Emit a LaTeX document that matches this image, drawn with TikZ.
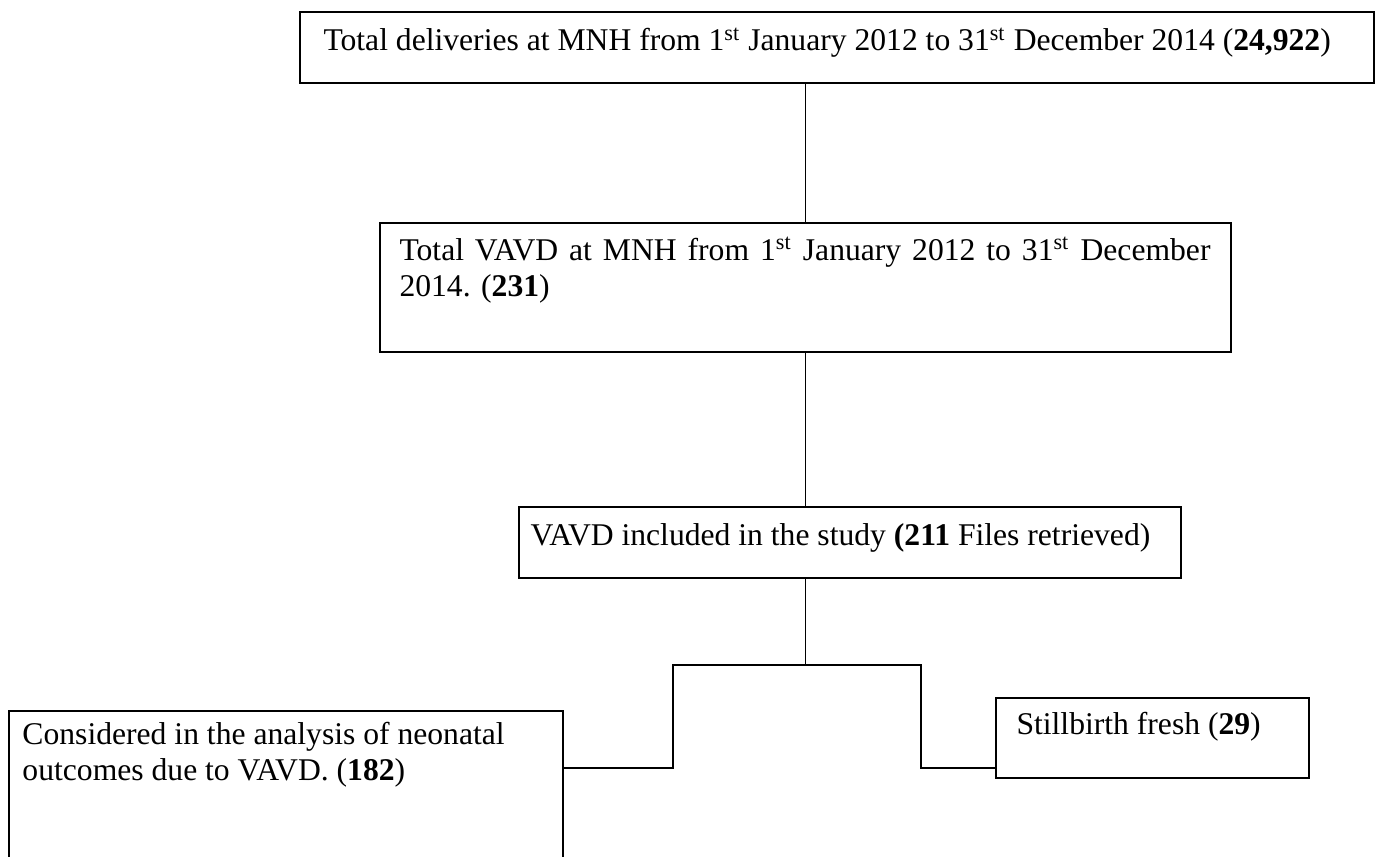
\documentclass[tikz,border=0pt]{standalone}
\usepackage{fontspec}
\setmainfont{Liberation Serif}
\usetikzlibrary{positioning}

\begin{document}
\begin{tikzpicture}[x=0.4pt, y=-0.4pt,
		frame/.style={draw, line width=0.8pt, inner sep=0pt, anchor=north west},
		txt/.style={inner sep=0pt, anchor=base west, align=left,
			font=\fontsize{12.65pt}{14.5pt}\selectfont},
		link/.style={draw, line width=0.6pt}
	]
	\clip (0,0) rectangle (1380,857);
	% boxes
	\node[frame, minimum width=429.6pt, minimum height=28.4pt] (total) at (299,11) {};
	\node[frame, minimum width=340.4pt, minimum height=51.6pt] (vavd) at (379,222) {};
	\node[frame, minimum width=264.8pt, minimum height=28.4pt] (study) at (518,506) {};
	\node[frame, minimum width=221.6pt, minimum height=64pt] (analysed) at (8,710) {};
	\node[frame, minimum width=125.2pt, minimum height=32pt] (still) at (995,697) {};
	% texts (base is the last line)
	\node[txt] (totaltxt) at ([shift={(24,40)}]total.north west)
		{Total deliveries at MNH from 1\textsuperscript{st} January 2012 to 31\textsuperscript{st} December 2014 (\textbf{24,922})};
	\node[txt] (vavdtxt) at ([shift={(20,75)}]vavd.north west)
		{\makebox[324.4pt][s]{Total VAVD at MNH from 1\textsuperscript{st} January 2012 to 31\textsuperscript{st} December}\\ 2014. (\textbf{231})};
	\node[txt] (studytxt) at ([shift={(12,40)}]study.north west)
		{VAVD included in the study \textbf{(211} Files retrieved)};
	\node[txt] (analysedtxt) at ([shift={(14,71)}]analysed.north west)
		{Considered in the analysis of neonatal\\ outcomes due to VAVD. (\textbf{182})};
	\node[txt] (stilltxt) at ([shift={(21,38)}]still.north west)
		{Stillbirth fresh (\textbf{29})};
	% connectors
	\coordinate (joinL) at (673,768);
	\coordinate (joinR) at (921,768);
	\draw[link] (total.south -| vavd.north) -- (vavd.north);
	\draw[link] (vavd.south) -- (study.north -| vavd.south);
	\draw[link] (study.south -| vavd.south) -- ++(0,86) coordinate (split);
	\draw[link] (split) -| (joinL) -- (joinL -| analysed.east);
	\draw[link] (split) -| (joinR) -- (joinR -| still.west);
\end{tikzpicture}
\end{document}
